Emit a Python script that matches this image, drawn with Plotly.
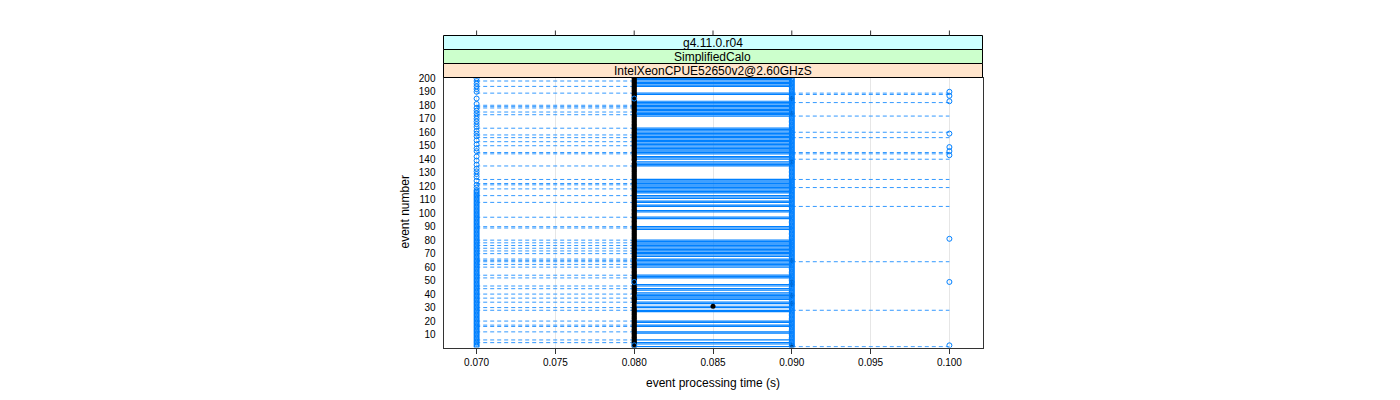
import plotly.graph_objects as go

# ---------------- data ----------------
strip_labels = ["g4.11.0.r04", "SimplifiedCalo", "IntelXeonCPUE52650v2@2.60GHzS"]
x_tick_vals = [0.070, 0.075, 0.080, 0.085, 0.090, 0.095, 0.100]
x_tick_text = ["0.070", "0.075", "0.080", "0.085", "0.090", "0.095", "0.100"]
y_tick_vals = [10, 20, 30, 40, 50, 60, 70, 80, 90, 100, 110, 120, 130, 140, 150, 160, 170, 180, 190, 200]
y_tick_text = [str(v) for v in y_tick_vals]

n_events = 200
box_q1 = 0.080          # lower hinge of the boxes
box_q3 = 0.090          # upper hinge of the boxes
whisker_low = 0.070     # end of lower whiskers
whisker_high = 0.100    # end of upper whiskers
default_median = 0.080

# events (runs of event numbers) that show a box from q1 to q3
box_runs = [(1, 1), (3, 4), (6, 6), (11, 12), (16, 17), (19, 20), (27, 28), (30, 31),
            (33, 34), (36, 41), (43, 44), (46, 47), (52, 54), (60, 66), (68, 80),
            (88, 90), (96, 97), (101, 102), (105, 106), (108, 109), (111, 113),
            (115, 125), (135, 138), (140, 142), (144, 163), (172, 183), (188, 189),
            (194, 200)]
# events with a dashed lower whisker (down to 0.070)
lower_whisker_events = [4, 6, 12, 16, 17, 20, 28, 30, 34, 37, 40, 44, 46, 52, 54, 60, 62,
                        64, 65, 66, 70, 72, 74, 76, 78, 80, 89, 90, 97, 108, 113, 118, 121,
                        122, 125, 135, 144, 145, 150, 153, 156, 158, 163, 173, 175, 178,
                        179, 180, 189, 194, 198]
# events with a dashed upper whisker (up to 0.100)
upper_whisker_events = [1, 28, 64, 105, 119, 125, 140, 144, 145, 156, 160, 172, 182, 188, 189]

# medians that differ from 0.080
median_090_events = [2, 33, 39, 47, 49, 65, 138, 174, 185]
median_085_events = [31]

# outlier circles
outlier_070_runs = [(1, 117), (119, 119), (121, 121), (124, 124), (127, 127), (129, 129),
                    (131, 131), (133, 133), (136, 136), (139, 139), (142, 142), (146, 146),
                    (148, 148), (151, 151), (154, 154), (157, 157), (159, 159), (161, 161),
                    (164, 164), (166, 166), (168, 168), (170, 170), (172, 172), (174, 174),
                    (176, 176), (178, 178), (181, 181), (185, 185), (190, 190), (192, 192),
                    (194, 194), (196, 196), (198, 198), (200, 200)]
outlier_080_events = [2, 49, 185]
outlier_090_runs = [(1, 200)]
outlier_100_events = [2, 49, 81, 143, 146, 149, 159, 183, 187, 190]


def expand(runs):
    out = []
    for a, b in runs:
        out.extend(range(a, b + 1))
    return out


box_events = expand(box_runs)
out070 = expand(outlier_070_runs)
out090 = expand(outlier_090_runs)

BLUE = "#0080ff"

# ---------------- traces ----------------
bx, by = [], []
for e in box_events:
    bx += [box_q1, box_q3, None]
    by += [e, e, None]

wx, wy = [], []
for e in lower_whisker_events:
    wx += [box_q1, whisker_low, None]
    wy += [e, e, None]
for e in upper_whisker_events:
    wx += [box_q3, whisker_high, None]
    wy += [e, e, None]

med_x, med_y = [], []
for e in range(1, n_events + 1):
    if e in median_090_events:
        m = 0.090
    elif e in median_085_events:
        m = 0.085
    else:
        m = default_median
    med_x.append(m)
    med_y.append(e)

ox, oy = [], []
for e in out070:
    ox.append(0.070); oy.append(e)
for e in outlier_080_events:
    ox.append(0.080); oy.append(e)
for e in out090:
    ox.append(0.090); oy.append(e)
for e in outlier_100_events:
    ox.append(0.100); oy.append(e)

fig = go.Figure()
fig.add_trace(go.Scatter(x=bx, y=by, mode="lines", line=dict(color=BLUE, width=1.2),
                         hoverinfo="skip"))
fig.add_trace(go.Scatter(x=wx, y=wy, mode="lines",
                         line=dict(color="#3399ff", width=1, dash="4px,3px"), hoverinfo="skip"))
fig.add_trace(go.Scatter(x=med_x, y=med_y, mode="markers",
                         marker=dict(color="black", size=5, line=dict(width=0))))
fig.add_trace(go.Scatter(x=ox, y=oy, mode="markers",
                         marker=dict(symbol="circle-open", color=BLUE, size=5,
                                     line=dict(width=1, color=BLUE))))

# ---------------- layout geometry (pixels -> paper) ----------------
W, H = 1400, 400
px_l, px_r = 443.5, 982.5
px_top, px_bot = 77.5, 347.5


def fx(p):
    return p / W


def fy(p):
    return (H - p) / H


FONT = "Liberation Sans, Arial, Helvetica, sans-serif"
shapes = []
strip_cols = ["#ccffff", "#ccffcc", "#ffe5cc"]
strip_edges = [35.5, 49.5, 63.5, 77.5]
annotations = []
for i, (lab, col) in enumerate(zip(strip_labels, strip_cols)):
    shapes.append(dict(type="rect", xref="paper", yref="paper",
                       x0=fx(px_l), x1=fx(px_r), y0=fy(strip_edges[i + 1]), y1=fy(strip_edges[i]),
                       fillcolor=col, line=dict(color="black", width=1), layer="above"))
    annotations.append(dict(xref="paper", yref="paper", x=fx((px_l + px_r) / 2),
                            y=fy((strip_edges[i] + strip_edges[i + 1]) / 2 + 0.5),
                            text=lab, showarrow=False, xanchor="center", yanchor="middle",
                            font=dict(family=FONT, size=12, color="black")))
for v in x_tick_vals:
    shapes.append(dict(type="line", xref="x", yref="paper", x0=v, x1=v,
                       y0=fy(35.5), y1=fy(30.5), line=dict(color="#333333", width=1)))

annotations.append(dict(xref="paper", yref="paper", x=fx((px_l + px_r) / 2), y=fy(383),
                        text="event processing time (s)", showarrow=False,
                        xanchor="center", yanchor="middle",
                        font=dict(family=FONT, size=12, color="black")))
annotations.append(dict(xref="paper", yref="paper", x=fx(404), y=fy((px_top + px_bot) / 2),
                        text="event number", showarrow=False, textangle=-90,
                        xanchor="center", yanchor="middle",
                        font=dict(family=FONT, size=12, color="black")))

fig.update_layout(
    width=W, height=H, autosize=False,
    margin=dict(l=0, r=0, t=0, b=0, pad=0, autoexpand=False),
    paper_bgcolor="white", plot_bgcolor="white",
    showlegend=False,
    shapes=shapes, annotations=annotations,
    xaxis=dict(domain=[fx(px_l), fx(px_r)], range=[0.0679, 0.1021], automargin=False,
               tickvals=x_tick_vals, ticktext=x_tick_text,
               ticks="outside", ticklen=5, tickcolor="#333333",
               showline=True, mirror=True, linecolor="#333333", linewidth=1,
               showgrid=True, gridcolor="#e6e6e6", zeroline=False,
               tickfont=dict(family=FONT, size=10, color="black")),
    yaxis=dict(domain=[fy(px_bot), fy(px_top)], range=[0.4, 200.6], automargin=False,
               tickvals=y_tick_vals, ticktext=y_tick_text,
               ticks="", ticklabelstandoff=5,
               showline=True, mirror=True, linecolor="#333333", linewidth=1,
               showgrid=False, zeroline=False,
               tickfont=dict(family=FONT, size=10, color="black")),
)

fig.write_html("out.html")
